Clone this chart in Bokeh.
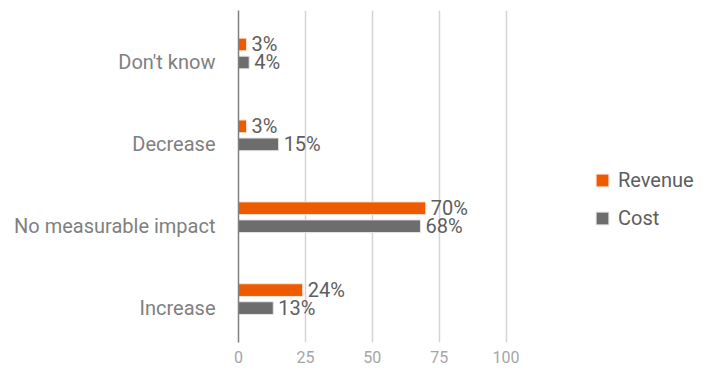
from bokeh.plotting import figure
from bokeh.models import ColumnDataSource, FixedTicker, Range1d, Legend, LegendItem
from bokeh.core.properties import value
from bokeh.embed import file_html
from bokeh.resources import INLINE

categories = ["Increase", "No measurable impact", "Decrease", "Don't know"]
revenue = [24, 70, 3, 3]
cost = [13, 68, 15, 4]
x_ticks = [0, 25, 50, 75, 100]
series_names = ["Revenue", "Cost"]

ORANGE = "#EE5A00"
GRAY = "#6D6D6D"
FONT = "Roboto"

pos = list(range(len(categories)))
rev_off = 0.22
src = ColumnDataSource(dict(
    pos=pos,
    rpos=[p_ + rev_off for p_ in pos],
    revenue=revenue,
    cost=cost,
    rlab=[f"{v}%" for v in revenue],
    clab=[f"{v}%" for v in cost],
))

p = figure(width=695, height=365, output_backend="svg", toolbar_location=None,
           x_range=Range1d(0, 170.8), y_range=Range1d(-0.42, 3.635),
           min_border_left=238, min_border_right=0, min_border_top=10, min_border_bottom=19)
p.outline_line_color = None
p.background_fill_color = "white"
p.border_fill_color = "white"

rr = p.hbar(y="rpos", right="revenue", left=0, height=0.155, source=src,
            fill_color=ORANGE, line_color="#FBE3D6", line_width=1)
cr = p.hbar(y="pos", right="cost", left=0, height=0.155, source=src,
            fill_color=GRAY, line_color="#E6E6E6", line_width=1)

p.text(x="revenue", y="rpos", text="rlab", source=src, x_offset=5,
       text_baseline="middle", text_align="left", text_font=value(FONT),
       text_font_size="20px", text_color="#5E5E5E")
p.text(x="cost", y="pos", text="clab", source=src, x_offset=5,
       text_baseline="middle", text_align="left", text_font=value(FONT),
       text_font_size="20px", text_color="#5E5E5E")

# x axis
p.xaxis.ticker = FixedTicker(ticks=x_ticks)
p.xaxis.axis_line_color = None
p.xaxis.major_tick_line_color = None
p.xaxis.minor_tick_line_color = None
p.xaxis.major_label_text_font = FONT
p.xaxis.major_label_text_font_size = "16px"
p.xaxis.major_label_text_color = "#A6A6A6"
p.xaxis.major_label_standoff = 2

# y axis
p.yaxis.ticker = FixedTicker(ticks=pos)
p.yaxis.major_label_overrides = {i: c for i, c in zip(pos, categories)}
p.yaxis.axis_line_color = "#7F7F7F"
p.yaxis.axis_line_width = 1.5
p.yaxis.major_tick_line_color = None
p.yaxis.minor_tick_line_color = None
p.yaxis.major_label_text_font = FONT
p.yaxis.major_label_text_font_size = "20px"
p.yaxis.major_label_text_color = "#808080"
p.yaxis.major_label_standoff = 17

p.xgrid.ticker = FixedTicker(ticks=x_ticks[1:])
p.xgrid.grid_line_color = "#D4D4D4"
p.xgrid.grid_line_width = 1.5
p.ygrid.grid_line_color = None

legend = Legend(items=[LegendItem(label=series_names[0], renderers=[rr]),
                       LegendItem(label=series_names[1], renderers=[cr])],
                location=(356, 112), orientation="vertical")
legend.border_line_color = None
legend.background_fill_alpha = 0
legend.padding = 0
legend.margin = 0
legend.glyph_width = 16
legend.glyph_height = 16
legend.label_standoff = 8
legend.spacing = 14
legend.label_text_font = FONT
legend.label_text_font_size = "20px"
legend.label_text_color = "#5E5E5E"
p.add_layout(legend)

open("out.html", "w").write(file_html(p, INLINE))
